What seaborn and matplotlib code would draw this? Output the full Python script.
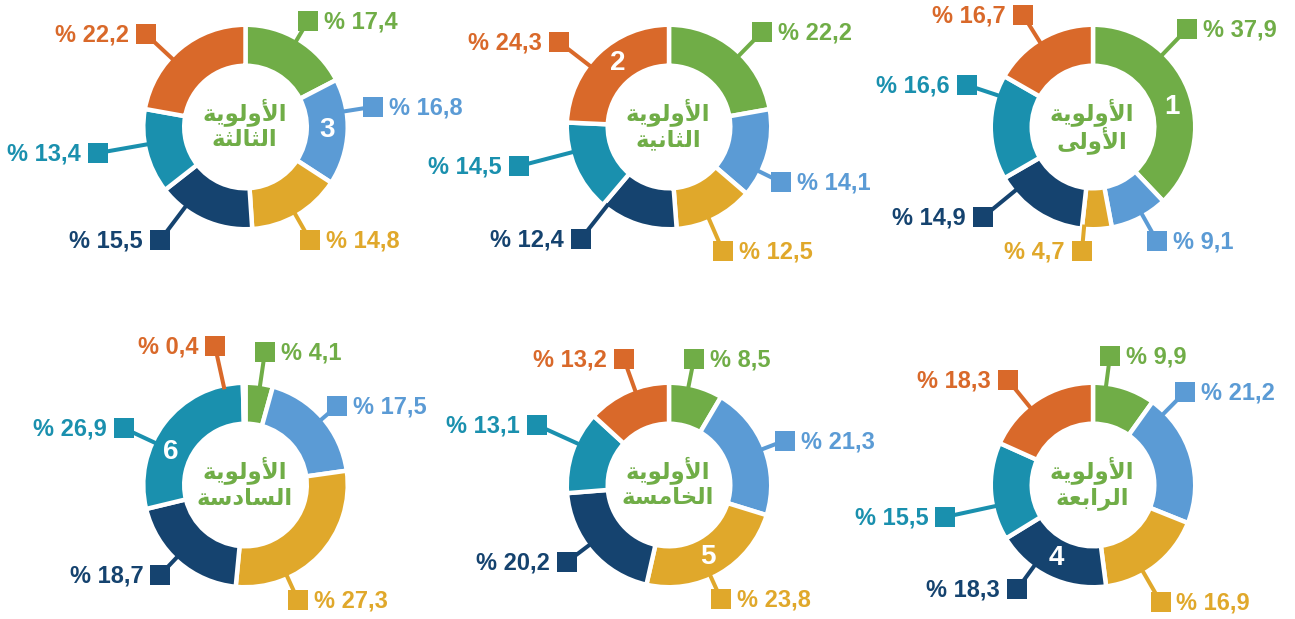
import numpy as np
import matplotlib
matplotlib.use("Agg")
import matplotlib.pyplot as plt
import seaborn as sns
from matplotlib.patches import Rectangle

# ---------------- data ----------------
priority_1 = [37.9, 9.1, 4.7, 14.9, 16.6, 16.7]
priority_2 = [22.2, 14.1, 12.5, 12.4, 14.5, 24.3]
priority_3 = [17.4, 16.8, 14.8, 15.5, 13.4, 22.2]
priority_4 = [9.9, 21.2, 16.9, 18.3, 15.5, 18.3]
priority_5 = [8.5, 21.3, 23.8, 20.2, 13.1, 13.2]
priority_6 = [4.1, 17.5, 27.3, 18.7, 26.9, 0.4]
heading = "الأولوية"
ordinals = ["الأولى", "الثانية", "الثالثة", "الرابعة", "الخامسة", "السادسة"]
numbers = ["1", "2", "3", "4", "5", "6"]
numbered_slice = [0, 5, 1, 3, 2, 4]

# ---------------- style / layout ----------------
colors = ["#70AD47", "#5B9BD5", "#E0A82B", "#15436F", "#1A90AE", "#D9692A"]
title_color = "#70AD47"
W, H = 1295, 619
centers = [(1093, 127), (669, 127), (245.5, 127),
           (1093, 485), (669, 485), (245.5, 485)]
label_polar = [
    [(43.8, 136), (150.7, 131), (185.1, 124.5), (230.7, 142), (288.4, 133), (328, 132)],
    [(44.4, 133), (116.2, 125), (156.5, 135), (218.2, 142), (255.4, 155), (307.7, 139)],
    [(30.5, 123), (81, 129), (150.3, 130), (217, 142), (260, 150), (313, 136)],
    [(7.5, 130), (44.7, 131), (150, 135), (216, 129), (257.8, 151), (321, 135)],
    [(11.2, 128), (69, 124), (155.5, 125), (233, 128), (294.4, 145), (340.3, 134)],
    [(8.3, 134), (49.2, 121), (155.5, 126), (223.5, 124), (295, 134), (347.6, 142)],
]
number_angle = [76, 321, 92, 207, 152, 294]
R_OUT, R_IN = 100.0, 63.5
EDGE_LW = 3.2

# ---------------- minimal Arabic shaping ----------------
FORMS = {
    'ا': ('\uFE8D', '\uFE8E', None, None),
    'أ': ('\uFE83', '\uFE84', None, None),
    'ب': ('\uFE8F', '\uFE90', '\uFE91', '\uFE92'),
    'ة': ('\uFE93', '\uFE94', None, None),
    'ث': ('\uFE99', '\uFE9A', '\uFE9B', '\uFE9C'),
    'خ': ('\uFEA5', '\uFEA6', '\uFEA7', '\uFEA8'),
    'د': ('\uFEA9', '\uFEAA', None, None),
    'ر': ('\uFEAD', '\uFEAE', None, None),
    'س': ('\uFEB1', '\uFEB2', '\uFEB3', '\uFEB4'),
    'ع': ('\uFEC9', '\uFECA', '\uFECB', '\uFECC'),
    'ل': ('\uFEDD', '\uFEDE', '\uFEDF', '\uFEE0'),
    'م': ('\uFEE1', '\uFEE2', '\uFEE3', '\uFEE4'),
    'ن': ('\uFEE5', '\uFEE6', '\uFEE7', '\uFEE8'),
    'و': ('\uFEED', '\uFEEE', None, None),
    'ى': ('\uFEEF', '\uFEF0', None, None),
    'ي': ('\uFEF1', '\uFEF2', '\uFEF3', '\uFEF4'),
}
LAM_ALEF = {'ا': ('\uFEFB', '\uFEFC'), 'أ': ('\uFEF7', '\uFEF8')}


def shape(word):
    tokens = []
    i = 0
    while i < len(word):
        c = word[i]
        if c == 'ل' and i + 1 < len(word) and word[i + 1] in LAM_ALEF:
            tokens.append(('LA', word[i + 1]))
            i += 2
        else:
            tokens.append(('C', c))
            i += 1

    def dual(t):
        return t[0] == 'C' and t[1] in FORMS and FORMS[t[1]][2] is not None

    out = []
    for k, t in enumerate(tokens):
        jp = k > 0 and dual(tokens[k - 1])
        jn = dual(t) and k + 1 < len(tokens)
        if t[0] == 'LA':
            out.append(LAM_ALEF[t[1]][1 if jp else 0])
            continue
        f = FORMS.get(t[1])
        if f is None:
            out.append(t[1])
        elif jp and jn:
            out.append(f[3])
        elif jp:
            out.append(f[1])
        elif jn:
            out.append(f[2])
        else:
            out.append(f[0])
    return "".join(reversed(out))


# ---------------- figure ----------------
sns.set_theme(style="white")
plt.rcParams['font.family'] = ['Liberation Sans', 'DejaVu Sans']

fig = plt.figure(figsize=(W / 100, H / 100), dpi=100)
ax = fig.add_axes([0, 0, 1, 1])

all_values = [priority_1, priority_2, priority_3, priority_4, priority_5, priority_6]
half = EDGE_LW * 100 / 72 / 2

for n, vals in enumerate(all_values):
    cx, cyp = centers[n]
    cy = H - cyp
    ax.pie(vals, colors=colors, startangle=90, counterclock=False,
           radius=R_OUT + half, center=(cx, cy),
           wedgeprops=dict(width=(R_OUT - R_IN) + 2 * half,
                           edgecolor="white", linewidth=EDGE_LW))
    # labels with leader lines and squares
    for j, v in enumerate(vals):
        ang, dist = label_polar[n][j]
        th = np.deg2rad(ang)
        ux, uy = np.sin(th), np.cos(th)
        sx, sy = cx + dist * ux, cy + dist * uy
        ax.plot([cx + (R_OUT - 2) * ux, sx], [cy + (R_OUT - 2) * uy, sy],
                color=colors[j], lw=2.9, solid_capstyle="butt", zorder=3)
        ax.add_patch(Rectangle((sx - 10, sy - 10), 20, 20, color=colors[j],
                               lw=0, zorder=4))
        txt = "% " + f"{v:.1f}".replace(".", ",")
        if 0 < ang < 180:
            ax.text(sx + 16, sy - 1, txt, ha="left", va="center",
                    color=colors[j], fontsize=17, fontweight="bold", zorder=5)
        else:
            ax.text(sx - 17, sy - 1, txt, ha="right", va="center",
                    color=colors[j], fontsize=17, fontweight="bold", zorder=5)
    # number on the slice
    th = np.deg2rad(number_angle[n])
    rm = (R_OUT + R_IN) / 2
    ax.text(cx + rm * np.sin(th), cy + rm * np.cos(th), numbers[n],
            ha="center", va="center", color="white", fontsize=20,
            fontweight="bold", zorder=5)
    # centre title
    ax.text(cx - 1, cy + 15, shape(heading), ha="center", va="center",
            color=title_color, fontsize=16.5, fontweight="bold",
            family=["DejaVu Sans"], zorder=5)
    ax.text(cx - 1, cy - 13, shape(ordinals[n]), ha="center", va="center",
            color=title_color, fontsize=16.5, fontweight="bold",
            family=["DejaVu Sans"], zorder=5)

ax.set_xlim(0, W)
ax.set_ylim(0, H)
ax.set_aspect("equal")
ax.axis("off")
fig.savefig("out.png", dpi=100, facecolor="white")
